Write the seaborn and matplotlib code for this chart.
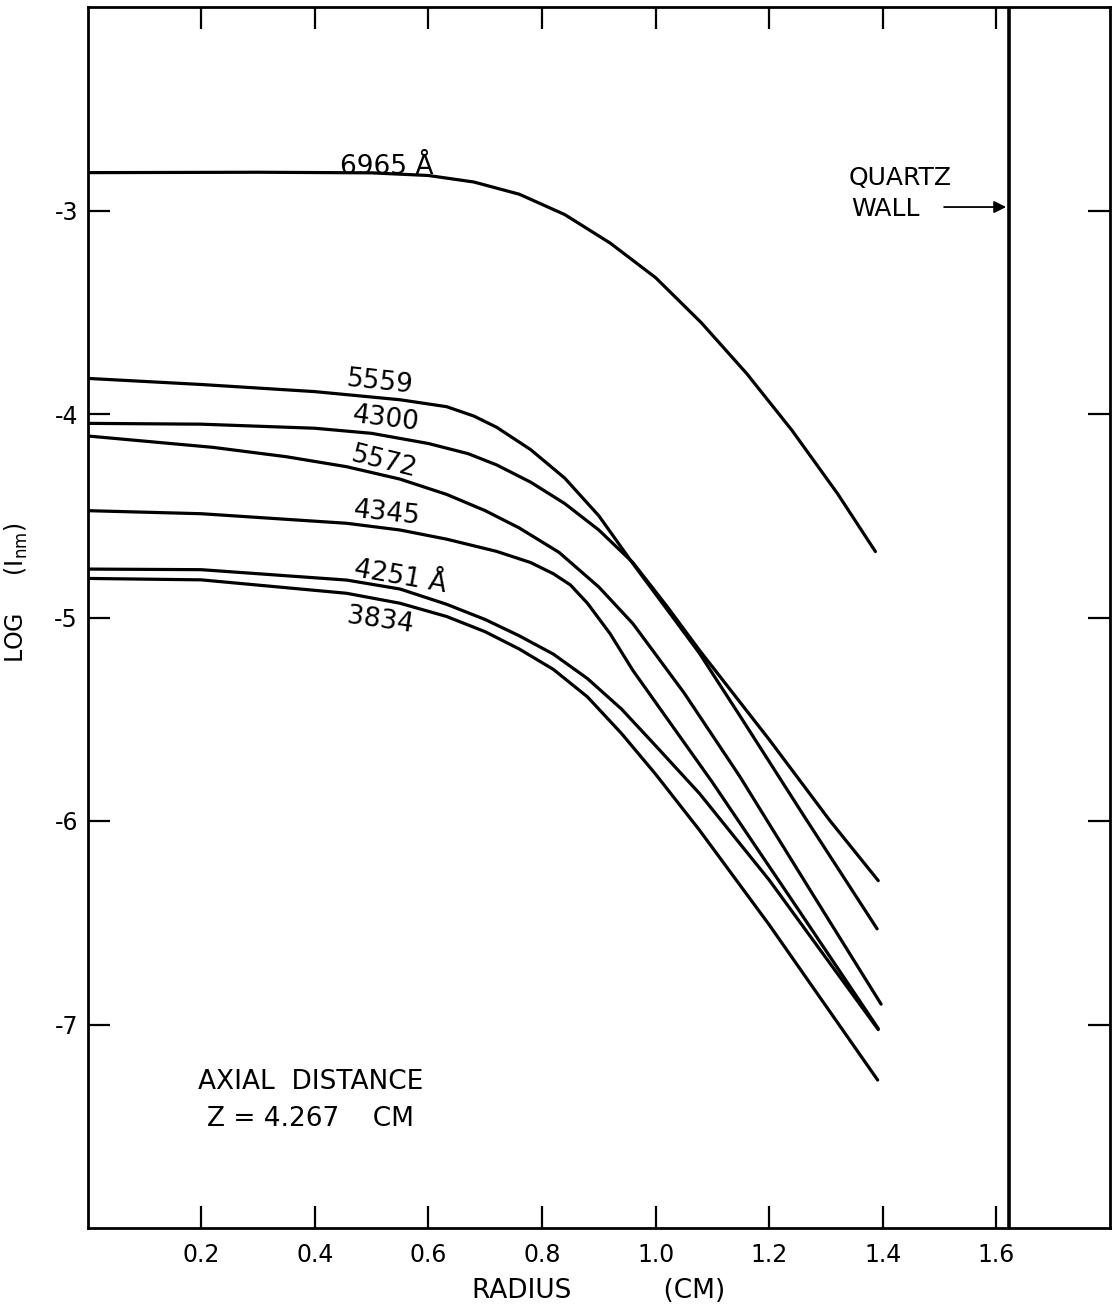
import pandas as pd
import matplotlib
matplotlib.use("Agg")
import matplotlib.pyplot as plt
import seaborn as sns

# Datos (radio en cm, log de intensidad)
radio_6965 = [0.0, 0.3, 0.5, 0.6, 0.68, 0.76, 0.84, 0.92, 1.0, 1.08, 1.16, 1.24, 1.32, 1.387]
log_6965 = [-2.814, -2.812, -2.815, -2.828, -2.86, -2.92, -3.02, -3.16, -3.33, -3.55, -3.80, -4.08, -4.39, -4.676]

radio_5559 = [0.0, 0.2, 0.4, 0.55, 0.632, 0.68, 0.72, 0.78, 0.84, 0.90, 0.96, 1.02, 1.077, 1.15, 1.26, 1.39]
log_5559 = [-3.825, -3.855, -3.89, -3.93, -3.964, -4.01, -4.065, -4.175, -4.315, -4.50, -4.735, -4.96, -5.175, -5.49, -5.97, -6.53]

radio_4300 = [0.0, 0.2, 0.4, 0.5, 0.6, 0.67, 0.72, 0.78, 0.84, 0.90, 0.96, 1.02, 1.077, 1.20, 1.306, 1.392]
log_4300 = [-4.046, -4.05, -4.07, -4.095, -4.145, -4.195, -4.25, -4.335, -4.44, -4.57, -4.73, -4.945, -5.16, -5.60, -5.995, -6.293]

radio_5572 = [0.0, 0.221, 0.35, 0.456, 0.55, 0.632, 0.70, 0.76, 0.83, 0.90, 0.96, 1.05, 1.148, 1.27, 1.397]
log_5572 = [-4.108, -4.164, -4.21, -4.259, -4.32, -4.395, -4.475, -4.56, -4.68, -4.85, -5.03, -5.37, -5.78, -6.33, -6.90]

radio_4345 = [0.0, 0.2, 0.456, 0.55, 0.632, 0.72, 0.78, 0.82, 0.85, 0.88, 0.92, 0.96, 1.10, 1.25, 1.392]
log_4345 = [-4.475, -4.49, -4.537, -4.57, -4.615, -4.675, -4.73, -4.785, -4.84, -4.93, -5.08, -5.26, -5.81, -6.43, -7.02]

radio_4251 = [0.0, 0.2, 0.456, 0.55, 0.632, 0.70, 0.76, 0.82, 0.88, 0.94, 1.0, 1.077, 1.20, 1.392]
log_4251 = [-4.762, -4.765, -4.816, -4.86, -4.935, -5.01, -5.09, -5.18, -5.30, -5.45, -5.63, -5.864, -6.29, -7.025]

radio_3834 = [0.0, 0.2, 0.456, 0.55, 0.632, 0.70, 0.76, 0.82, 0.88, 0.94, 1.0, 1.077, 1.20, 1.391]
log_3834 = [-4.808, -4.815, -4.881, -4.93, -4.995, -5.07, -5.155, -5.255, -5.39, -5.57, -5.77, -6.044, -6.51, -7.273]

curvas = {
    "6965": (radio_6965, log_6965),
    "5559": (radio_5559, log_5559),
    "4300": (radio_4300, log_4300),
    "5572": (radio_5572, log_5572),
    "4345": (radio_4345, log_4345),
    "4251": (radio_4251, log_4251),
    "3834": (radio_3834, log_3834),
}

# etiquetas de las curvas: texto, x, y, rotacion
etiquetas = [
    ("6965 Å", 0.445, -2.786, 0, "left"),
    ("5559", 0.515, -3.843, -6, "center"),
    ("4300", 0.525, -4.027, -7, "center"),
    ("5572", 0.522, -4.236, -14, "center"),
    ("4345", 0.527, -4.487, -6, "center"),
    ("4251 Å", 0.55, -4.80, -10, "center"),
    ("3834", 0.515, -5.017, -8, "center"),
]

pared_cuarzo = 1.622
xticks = [0.2, 0.4, 0.6, 0.8, 1.0, 1.2, 1.4, 1.6]
yticks = [-7, -6, -5, -4, -3]

sns.set_theme(style="ticks")
plt.rcParams["font.family"] = ["DejaVu Sans"]
plt.rcParams["text.color"] = "black"
plt.rcParams["axes.labelcolor"] = "black"

fig = plt.figure(figsize=(11.13, 13.08), dpi=100)
ax = fig.add_axes([87.6 / 1113, 1 - 1228 / 1308, (1110 - 87.6) / 1113, (1228 - 7) / 1308])

filas = []
for nombre, (xs, ys) in curvas.items():
    for x, y in zip(xs, ys):
        filas.append({"linea": nombre, "radio": x, "log": y})
df = pd.DataFrame(filas)

sns.lineplot(data=df, x="radio", y="log", hue="linea", units="linea", estimator=None,
             palette=["black"] * len(curvas), linewidth=2.3, legend=False, sort=False, ax=ax)

ax.axvline(pared_cuarzo, color="black", linewidth=2.6)

ax.set_xlim(0, 1.8)
ax.set_ylim(-8, -2)
ax.set_xticks(xticks)
ax.set_xticklabels([f"{t:.1f}" for t in xticks])
ax.set_yticks(yticks)
ax.set_yticklabels([f"-{abs(t)}" for t in yticks])
ax.tick_params(direction="in", length=16, width=1.6, top=True, right=True,
               labelsize=17, colors="black")
ax.tick_params(axis="x", pad=11)
ax.tick_params(axis="y", pad=7)
for s in ax.spines.values():
    s.set_linewidth(2.0)
    s.set_color("black")

for texto, x, y, rot, ha in etiquetas:
    ax.text(x, y, texto, rotation=rot, ha=ha, va="center", fontsize=19,
            rotation_mode="anchor")

ax.text(1.339, -2.838, "QUARTZ", fontsize=18, ha="left", va="center")
ax.text(1.345, -2.993, "WALL", fontsize=18, ha="left", va="center")
ax.annotate("", xy=(pared_cuarzo, -2.983), xytext=(1.503, -2.983),
            arrowprops=dict(arrowstyle="-|>", color="black", lw=1.3, mutation_scale=18))

ax.text(0.393, -7.283, "AXIAL  DISTANCE", fontsize=19, ha="center", va="center")
ax.text(0.393, -7.462, "Z = 4.267    CM", fontsize=19, ha="center", va="center")

ax.set_xlabel("RADIUS           (CM)", fontsize=19, labelpad=8)
ax.set_ylabel("LOG     (I$_{\\mathrm{nm}}$)", fontsize=17)
ax.yaxis.set_label_coords(-0.056, 0.52)

fig.savefig("out.png", dpi=100, facecolor="white")
